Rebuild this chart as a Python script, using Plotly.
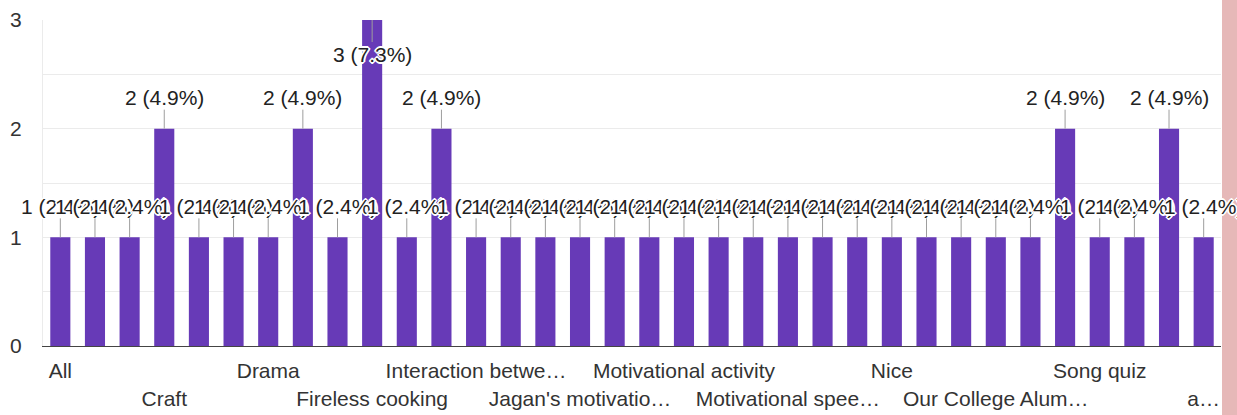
import plotly.graph_objects as go

# Categories (alphabetical, as in the reference). Only every third label is shown on the axis.
categories = [
    "All", "Art", "Chess", "Craft", "Dance", "Debate", "Drama", "Essay writing",
    "Fancy dress", "Fireless cooking", "Games", "Group discussion",
    "Interaction betwe…", "Interesting", "It was good", "Jagan's motivatio…",
    "Less", "Mehendi", "Motivational activity", "Motivational class",
    "Motivational program", "Motivational spee…", "Music", "Nature walk",
    "Nice", "No", "Nothing", "Our College Alum…", "Poster making", "Quiz",
    "Song quiz", "Sports", "Yoga", "a…",
]
counts = [1, 1, 1, 2, 1, 1, 1, 2, 1, 3, 1, 2, 1, 1, 1, 1, 1, 1, 1, 1, 1, 1, 1,
          1, 1, 1, 1, 1, 1, 2, 1, 1, 2, 1]

shown_labels = ["All", "Craft", "Drama", "Fireless cooking", "Interaction betwe…",
                "Jagan's motivatio…", "Motivational activity", "Motivational spee…",
                "Nice", "Our College Alum…", "Song quiz", "a…"]
y_ticks = [0, 1, 2, 3]

total = sum(counts)
FONT = "Liberation Sans, Arial, sans-serif"
W, H = 1237, 415
ML, MR, MT, MB = 43, 16, 20, 69

fig = go.Figure(go.Bar(
    x=categories, y=counts, marker=dict(color="#673ab7", line=dict(width=0)),
    hoverinfo="skip",
))

ticktext = []
for i, lab in enumerate(shown_labels):
    ticktext.append(lab if i % 2 == 0 else "<br>" + lab)

halo = ("2px 0 0 #fff, -2px 0 0 #fff, 0 2px 0 #fff, 0 -2px 0 #fff, "
        "1px 1px 0 #fff, -1px -1px 0 #fff, 1px -1px 0 #fff, -1px 1px 0 #fff")

ymax = max(y_ticks)
for c, v in zip(categories, counts):
    txt = f"{v} ({v / total * 100:.1f}%)"
    inside = v >= ymax
    fig.add_annotation(
        x=c, y=v, text=txt, showarrow=True, arrowhead=0, arrowwidth=1,
        arrowcolor="#9e9e9e", ax=0, ay=34 if inside else -31,
        font=dict(family=FONT, size=21, color="#222222", shadow=halo),
        borderpad=0,
    )

plot_w = W - ML - MR
plot_h = H - MT - MB
fig.add_shape(
    type="rect", xref="paper", yref="paper",
    x0=(1222 - ML) / plot_w, x1=(W - ML) / plot_w,
    y0=-MB / plot_h, y1=1 + MT / plot_h,
    fillcolor="#e6b8b8", line=dict(width=0), layer="above",
)

fig.update_layout(
    width=W, height=H, margin=dict(l=ML, r=MR, t=MT, b=MB),
    paper_bgcolor="white", plot_bgcolor="white", bargap=0.42,
    showlegend=False,
    font=dict(family=FONT, size=21, color="#333333"),
    xaxis=dict(
        type="category", range=[-0.5, len(categories) - 0.5],
        tickmode="array", tickvals=shown_labels, ticktext=ticktext,
        tickangle=0, showgrid=False, showline=True, linecolor="#444444", linewidth=1,
        ticks="", ticklabelstandoff=6,
        tickfont=dict(family=FONT, size=21, color="#333333"),
        automargin=False,
    ),
    yaxis=dict(
        range=[0, ymax], tickmode="array", tickvals=y_ticks,
        showgrid=True, gridcolor="#ebebeb", gridwidth=1,
        minor=dict(dtick=0.5, showgrid=True, gridcolor="#ebebeb", gridwidth=1),
        zeroline=True, zerolinecolor="#444444", zerolinewidth=1,
        showline=True, linecolor="#ebebeb", linewidth=1,
        ticks="", ticklabelstandoff=16,
        tickfont=dict(family=FONT, size=21, color="#333333"),
        automargin=False,
    ),
)

fig.write_html(
    "out.html",
    config={"displayModeBar": False},
    post_script="document.body.style.margin='0';document.body.style.overflow='hidden';",
)
